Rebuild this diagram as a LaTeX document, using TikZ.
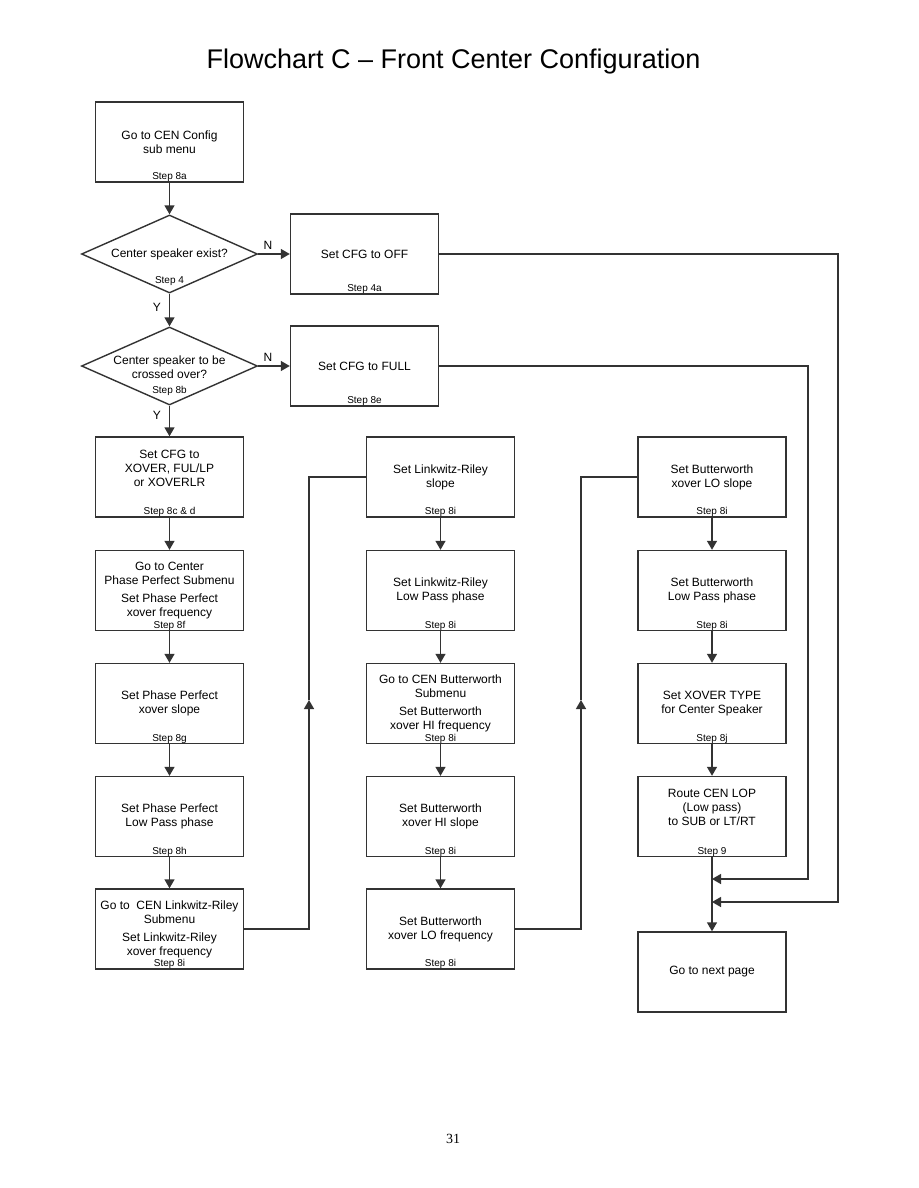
\documentclass[tikz,border=0pt]{standalone}
\usepackage{fontspec}
\setmainfont{Liberation Sans}
\newfontfamily\pagefont{Liberation Serif}
\usetikzlibrary{shapes.geometric,arrows.meta}
\begin{document}
\begin{tikzpicture}[x=1pt,y=-1pt]
\tikzset{
 ln/.style={draw=black!80, line width=1.4pt},
 box/.style={ln, rectangle, minimum width=148pt, minimum height=80pt, align=center, font=\fontsize{12}{14}\selectfont, inner sep=0pt},
 dia/.style={ln, diamond, minimum width=176pt, minimum height=78pt, inner sep=0pt},
 txt/.style={align=center, font=\fontsize{12}{14}\selectfont, inner sep=0pt},
 steplbl/.style={anchor=base, font=\fontsize{10}{12}\selectfont, inner sep=0pt},
 arr/.style={ln, -{Triangle[length=9pt,width=10pt]}},
 con/.style={ln},
}
\useasboundingbox (0,0) rectangle (918,1188);
\fill[white] (0,0) rectangle (918,1188);

% title and page number
\node[font=\fontsize{27}{32}\selectfont] (title) at (453.5,62) {Flowchart C -- Front Center Configuration};
\node[font=\pagefont\fontsize{14}{16}\selectfont] (pagenum) at (453,1139) {31};

% top part
\node[box] (b1) at (169.5,142) {Go to CEN Config\\sub menu};
\node[steplbl] (s1) at ([yshift=3pt]b1.south) {Step 8a};

\node[dia] (d1) at (169.5,254) {};
\node[txt] (d1t) at (169.5,254) {Center speaker exist?};
\node[steplbl] (d1s) at (169.5,283.5) {Step 4};

\node[dia] (d2) at (169.5,366) {};
\node[txt] (d2t) at (169.5,367) {Center speaker to be\\crossed over?};
\node[steplbl] (d2s) at (169.5,393.5) {Step 8b};

\node[box] (off) at (364.5,254) {Set CFG to OFF};
\node[steplbl] (offs) at ([yshift=3pt]off.south) {Step 4a};
\node[box] (full) at (364.5,366) {Set CFG to FULL};
\node[steplbl] (fulls) at ([yshift=3pt]full.south) {Step 8e};

% column 1
\node[box] (c1a) at (169.5,477) {Set CFG to\\XOVER, FUL/LP\\or XOVERLR\\[4pt]};
\node[steplbl] (c1as) at ([yshift=3pt]c1a.south) {Step 8c \& d};
\node[box] (c1b) at (169.5,590.5) {Go to Center\\Phase Perfect Submenu\\[4pt]Set Phase Perfect\\xover frequency};
\node[steplbl] (c1bs) at ([yshift=3pt]c1b.south) {Step 8f};
\node[box] (c1c) at (169.5,703.5) {Set Phase Perfect\\xover slope};
\node[steplbl] (c1cs) at ([yshift=3pt]c1c.south) {Step 8g};
\node[box] (c1d) at (169.5,816.5) {Set Phase Perfect\\Low Pass phase};
\node[steplbl] (c1ds) at ([yshift=3pt]c1d.south) {Step 8h};
\node[box] (c1e) at (169.5,929) {Go to\ \ CEN Linkwitz-Riley\\Submenu\\[4pt]Set Linkwitz-Riley\\xover frequency};
\node[steplbl] (c1es) at ([yshift=3pt]c1e.south) {Step 8i};

% column 2
\node[box] (c2a) at (440.5,477) {Set Linkwitz-Riley\\slope};
\node[steplbl] (c2as) at ([yshift=3pt]c2a.south) {Step 8i};
\node[box] (c2b) at (440.5,590.5) {Set Linkwitz-Riley\\Low Pass phase};
\node[steplbl] (c2bs) at ([yshift=3pt]c2b.south) {Step 8i};
\node[box] (c2c) at (440.5,703.5) {Go to CEN Butterworth\\Submenu\\[4pt]Set Butterworth\\xover HI frequency};
\node[steplbl] (c2cs) at ([yshift=3pt]c2c.south) {Step 8i};
\node[box] (c2d) at (440.5,816.5) {Set Butterworth\\xover HI slope};
\node[steplbl] (c2ds) at ([yshift=3pt]c2d.south) {Step 8i};
\node[box] (c2e) at (440.5,929) {Set Butterworth\\xover LO frequency};
\node[steplbl] (c2es) at ([yshift=3pt]c2e.south) {Step 8i};

% column 3
\node[box] (c3a) at (712,477) {Set Butterworth\\xover LO slope};
\node[steplbl] (c3as) at ([yshift=3pt]c3a.south) {Step 8i};
\node[box] (c3b) at (712,590.5) {Set Butterworth\\Low Pass phase};
\node[steplbl] (c3bs) at ([yshift=3pt]c3b.south) {Step 8i};
\node[box] (c3c) at (712,703.5) {Set XOVER TYPE\\for Center Speaker};
\node[steplbl] (c3cs) at ([yshift=3pt]c3c.south) {Step 8j};
\node[box] (c3d) at (712,816.5) {Route CEN LOP\\(Low pass)\\to SUB or LT/RT\\[4pt]};
\node[steplbl] (c3ds) at ([yshift=3pt]c3d.south) {Step 9};
\node[box] (next) at (712,972) {Go to next page};

% labels
\node[txt] (n1) at (268,245) {N};
\node[txt] (n2) at (268,357) {N};
\node[txt] (y1) at (157,307) {Y};
\node[txt] (y2) at (157,415) {Y};

% connectors
\draw[arr] (b1.south) -- (d1.north);
\draw[arr] (d1.east) -- (off.west);
\draw[arr] (d1.south) -- (d2.north);
\draw[arr] (d2.east) -- (full.west);
\draw[arr] (d2.south) -- (c1a.north);
\draw[arr] (c1a.south) -- (c1b.north);
\draw[arr] (c1b.south) -- (c1c.north);
\draw[arr] (c1c.south) -- (c1d.north);
\draw[arr] (c1d.south) -- (c1e.north);
\draw[arr] (c2a.south) -- (c2b.north);
\draw[arr] (c2b.south) -- (c2c.north);
\draw[arr] (c2c.south) -- (c2d.north);
\draw[arr] (c2d.south) -- (c2e.north);
\draw[arr] (c3a.south) -- (c3b.north);
\draw[arr] (c3b.south) -- (c3c.north);
\draw[arr] (c3c.south) -- (c3d.north);
\draw[arr] (c3d.south) -- (next.north);

\coordinate (k1) at (309,700);
\draw[arr] (c1e.east) -| (k1);
\draw[con] (k1) |- (c2a.west);
\coordinate (k2) at (581,700);
\draw[arr] (c2e.east) -| (k2);
\draw[con] (k2) |- (c3a.west);

\coordinate (r1) at (838,902);
\coordinate (e1) at (712,902);
\draw[arr] (off.east) -| (r1) -- (e1);
\coordinate (r2) at (808,879);
\coordinate (e2) at (712,879);
\draw[arr] (full.east) -| (r2) -- (e2);
\end{tikzpicture}
\end{document}
